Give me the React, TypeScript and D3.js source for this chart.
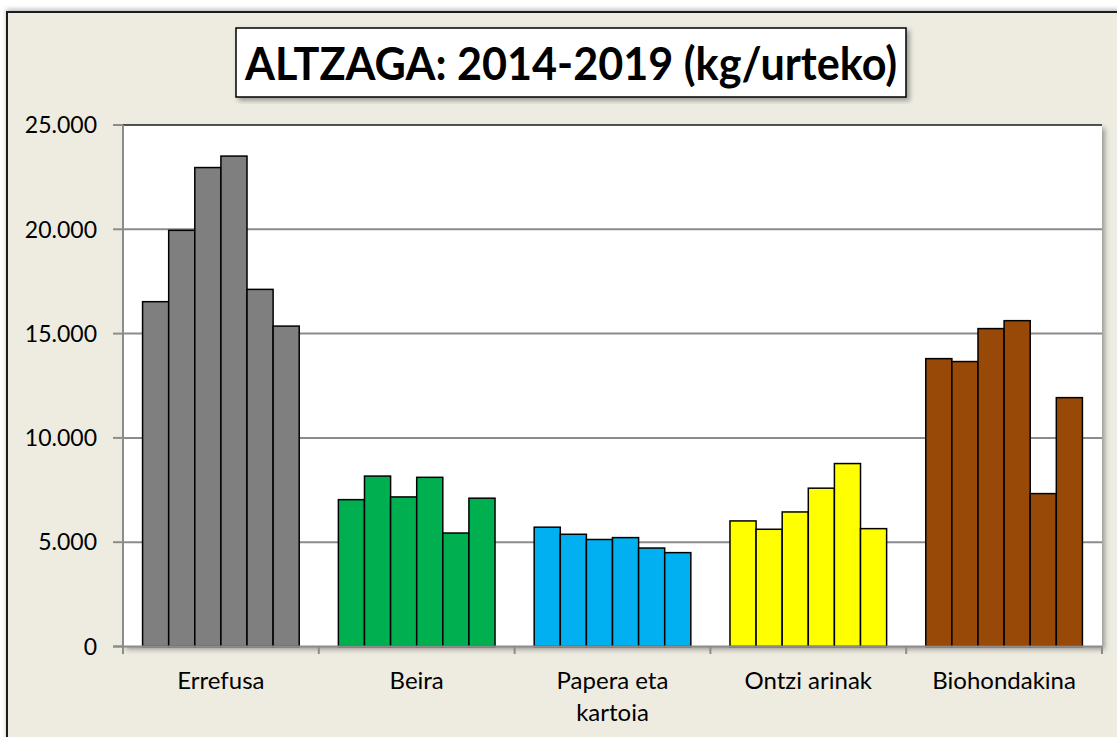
import React from "react"
import { scaleBand, scaleLinear, range } from "d3"

const categories = ["Errefusa", "Beira", "Papera eta kartoia", "Ontzi arinak", "Biohondakina"]
const categoryLines = [["Errefusa"], ["Beira"], ["Papera eta", "kartoia"], ["Ontzi arinak"], ["Biohondakina"]]
const years = ["2014", "2015", "2016", "2017", "2018", "2019"]
const colors = ["#7f7f7f", "#00b050", "#00b0f0", "#ffff00", "#984807"]

const errefusa = [16530, 19950, 22960, 23510, 17120, 15360]
const beira = [7040, 8170, 7170, 8110, 5440, 7110]
const papera = [5720, 5380, 5130, 5220, 4720, 4500]
const ontzi = [6020, 5620, 6450, 7590, 8770, 5650]
const bio = [13800, 13660, 15240, 15620, 7330, 11930]
const values = [errefusa, beira, papera, ontzi, bio]

const yTicks = [0, 5000, 10000, 15000, 20000, 25000]
const tickLabels = ["0", "5.000", "10.000", "15.000", "20.000", "25.000"]

const width = 1117
const height = 737
const plot = { left: 123, right: 1102, top: 125, bottom: 646.5 }
const font = "Lato, 'Open Sans', sans-serif"

function App() {
  const xScale = scaleBand<string>()
    .domain(categories)
    .range([plot.left, plot.right])

  const bw = xScale.bandwidth()
  const gap = bw * 0.2
  const yearScale = scaleBand<string>()
    .domain(years)
    .range([gap / 2, bw - gap / 2])

  const yScale = scaleLinear()
    .domain([0, 25000])
    .range([plot.bottom, plot.top])

  return (
    <svg width={width} height={height} style={{ position: "absolute", left: 0, top: 0 }}>
      <defs>
        <filter id="shadow" x="-5%" y="-5%" width="115%" height="115%">
          <feDropShadow dx="3" dy="3" stdDeviation="2.5" floodColor="#000" floodOpacity="0.35" />
        </filter>
        <filter id="topShadow" x="-5%" y="-50%" width="110%" height="200%">
          <feDropShadow dx="0" dy="-2" stdDeviation="2" floodColor="#000" floodOpacity="0.25" />
        </filter>
      </defs>
      <rect width={width} height={height} fill="#ffffff" />
      <rect x={7} y={12} width={1140} height={760} fill="#eeece1" stroke="#1a1a1a" strokeWidth={2} filter="url(#topShadow)" />

      {/* title */}
      <rect x={236} y={28} width={670} height={69} fill="#ffffff" stroke="#000" strokeWidth={1.5} filter="url(#shadow)" />
      <text x={571} y={80} textAnchor="middle" fontFamily={font} fontWeight={700} fontSize={45}
        textLength={652} lengthAdjust="spacingAndGlyphs" fill="#000">ALTZAGA: 2014-2019 (kg/urteko)</text>

      {/* plot area */}
      <rect x={plot.left} y={plot.top} width={plot.right - plot.left} height={plot.bottom - plot.top}
        fill="#ffffff" filter="url(#shadow)" />

      {yTicks.map((t, i) => (
        <g key={t} transform={`translate(0, ${yScale(t)})`}>
          {t > 0 && (
            <line x1={plot.left} x2={plot.right} stroke={t === 25000 ? "#1a1a1a" : "#8c8c8c"} strokeWidth={t === 25000 ? 1.5 : 2} />
          )}
          <line x1={113} x2={plot.left} stroke="#8c8c8c" strokeWidth={2} />
          <text x={97} dy="0.36em" textAnchor="end" fontFamily={font} fontSize={23} fill="#000">{tickLabels[i]}</text>
        </g>
      ))}

      {categories.map((c, ci) => (
        <g key={c} transform={`translate(${xScale(c)}, 0)`}>
          {years.map((yr, yi) => (
            <rect key={yr}
              x={yearScale(yr)}
              y={yScale(values[ci][yi])}
              width={yearScale.bandwidth()}
              height={plot.bottom - yScale(values[ci][yi])}
              fill={colors[ci]}
              stroke="#000"
              strokeWidth={1.5}
            />
          ))}
        </g>
      ))}

      {/* axes */}
      <line x1={plot.left} x2={plot.left} y1={plot.top} y2={654} stroke="#8c8c8c" strokeWidth={2} />
      <line x1={113} x2={plot.right} y1={plot.bottom} y2={plot.bottom} stroke="#8c8c8c" strokeWidth={2} />
      {range(categories.length + 1).map(i => (
        <line key={i} x1={plot.left + i * bw} x2={plot.left + i * bw} y1={plot.bottom} y2={654} stroke="#8c8c8c" strokeWidth={2} />
      ))}

      {categories.map((c, ci) => (
        <text key={c} x={(xScale(c) ?? 0) + bw / 2} y={689} textAnchor="middle" fontFamily={font} fontSize={24} fill="#000">
          {categoryLines[ci].map((ln, li) => (
            <tspan key={ln} x={(xScale(c) ?? 0) + bw / 2} dy={li === 0 ? 0 : 32}>{ln}</tspan>
          ))}
        </text>
      ))}
    </svg>
  )
}

export default App
